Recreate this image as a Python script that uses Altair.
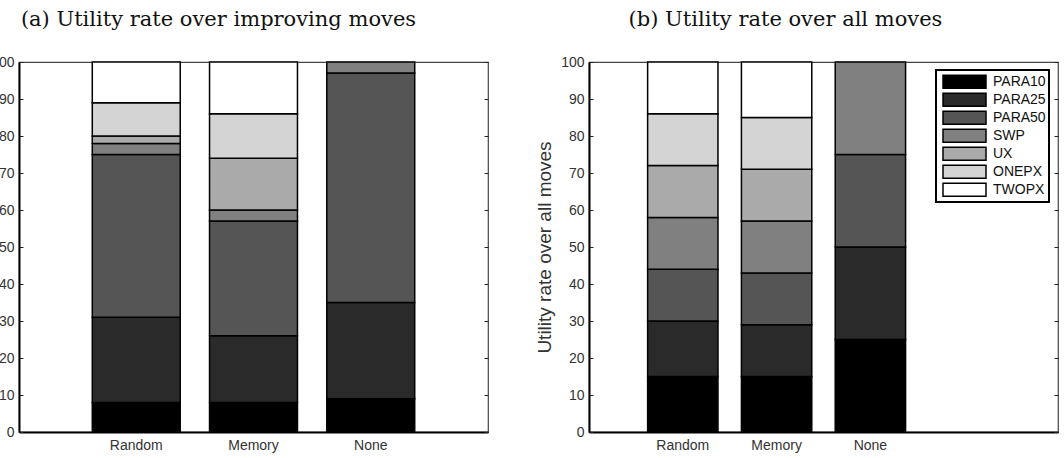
import altair as alt
import pandas as pd

methods = ["Random", "Memory", "None"]
operators = ["PARA10", "PARA25", "PARA50", "SWP", "UX", "ONEPX", "TWOPX"]
gray_levels = ["#000000", "#2a2a2a", "#555555", "#808080", "#aaaaaa", "#d4d4d4", "#ffffff"]

# Share (%) of each operator, bottom to top in operator order
improving_random = [8, 23, 44, 3, 2, 9, 11]
improving_memory = [8, 18, 31, 3, 14, 12, 14]
improving_none = [9, 26, 62, 3, 0, 0, 0]

all_random = [15, 15, 14, 14, 14, 14, 14]
all_memory = [15, 14, 14, 14, 14, 14, 15]
all_none = [25, 25, 25, 25, 0, 0, 0]

y_ticks = list(range(0, 101, 10))

SANS = "Liberation Sans"
SERIF = "DejaVu Serif"
PLOT_W = 469
PLOT_H = 370


def to_frame(series):
    rows = []
    for method, values in zip(methods, series):
        for i, (op, v) in enumerate(zip(operators, values)):
            if v > 0:
                rows.append({"method": method, "operator": op, "rank": i, "share": v})
    return pd.DataFrame(rows)


def panel(df, title, x_scale, title_dx, legend, y_title=None):
    y_scale = alt.Scale(domain=[0, 100], nice=False, zero=True)

    x_axis = alt.Axis(
        title="", ticks=False, labelAngle=0, labelPadding=6,
        labelFontSize=14, labelFont=SANS, labelColor="#333333",
        domainColor="black", domainWidth=2, grid=False,
    )

    y_axis_args = dict(
        orient="left", values=y_ticks, ticks=False, labelPadding=5,
        labelFontSize=14, labelFont=SANS, labelColor="#333333",
        grid=False, domainColor="black", domainWidth=2,
    )
    if y_title:
        y_axis_args.update(
            title=y_title, titleFontSize=19, titleFont=SANS,
            titleFontWeight="normal", titleColor="#333333", titlePadding=6,
        )
    else:
        y_axis_args.update(title="")

    color_args = dict(scale=alt.Scale(domain=operators, range=gray_levels))
    color_args["legend"] = legend

    bars = alt.Chart(df).mark_bar(stroke="black", strokeWidth=1.5).encode(
        x=alt.X("method:N", sort=methods, scale=x_scale, axis=x_axis),
        y=alt.Y("share:Q", stack="zero", scale=y_scale, axis=alt.Axis(**y_axis_args)),
        color=alt.Color("operator:N", **color_args),
        order=alt.Order("rank:Q", sort="ascending"),
    )

    # inward-pointing ticks on both vertical frame edges
    def inner_ticks(orient):
        return alt.Chart(df).mark_point(opacity=0).encode(
            x=alt.X("method:N", sort=methods, scale=x_scale, axis=x_axis),
            y=alt.Y(
                "share:Q", scale=y_scale,
                axis=alt.Axis(
                    orient=orient, offset=-PLOT_W, values=y_ticks, labels=False,
                    domain=False, grid=False, ticks=True, tickSize=4,
                    tickColor="#222222", tickWidth=1, title="",
                ),
            ),
        )

    return (
        alt.layer(bars, inner_ticks("right"), inner_ticks("left"))
        .resolve_axis(y="independent")
        .properties(
            width=PLOT_W, height=PLOT_H,
            title=alt.TitleParams(
                title, font=SERIF, fontSize=21, fontWeight="normal", color="#111111",
                anchor="middle", frame="group", dx=title_dx, offset=25,
            ),
        )
    )


left = panel(
    to_frame([improving_random, improving_memory, improving_none]),
    "(a) Utility rate over improving moves",
    alt.Scale(domain=methods, paddingInner=0.25, paddingOuter=0.625),
    -35, None,
)

legend = alt.Legend(
    orient="none", legendX=347, legendY=8, title=None,
    symbolType="M-1,-0.302H1V0.302H-1Z", symbolSize=1849,
    symbolStrokeColor="black", symbolStrokeWidth=1.5, symbolOpacity=1,
    labelFontSize=14, labelFont=SANS, labelColor="#111111",
    padding=3, clipHeight=17.7, rowPadding=0, labelOffset=6, symbolOffset=3,
    strokeColor="black", fillColor="white",
)

# the right panel keeps one empty slot after the last bar
right = panel(
    to_frame([all_random, all_memory, all_none]),
    "(b) Utility rate over all moves",
    alt.Scale(domain=methods + [""], paddingInner=0.25, paddingOuter=0.625),
    -38, legend, "Utility rate over all moves",
)

chart = (
    alt.hconcat(left, right, spacing=45)
    .resolve_scale(color="independent")
    .resolve_legend(color="independent")
    .properties(padding={"left": -10, "top": 8, "right": 0, "bottom": 0})
    .configure(font=SANS)
    .configure_view(stroke="#444444", strokeWidth=1.2)
    .configure_legend(strokeWidth=2)
)

chart.save("out.html", embed_options={"renderer": "svg", "actions": False})
